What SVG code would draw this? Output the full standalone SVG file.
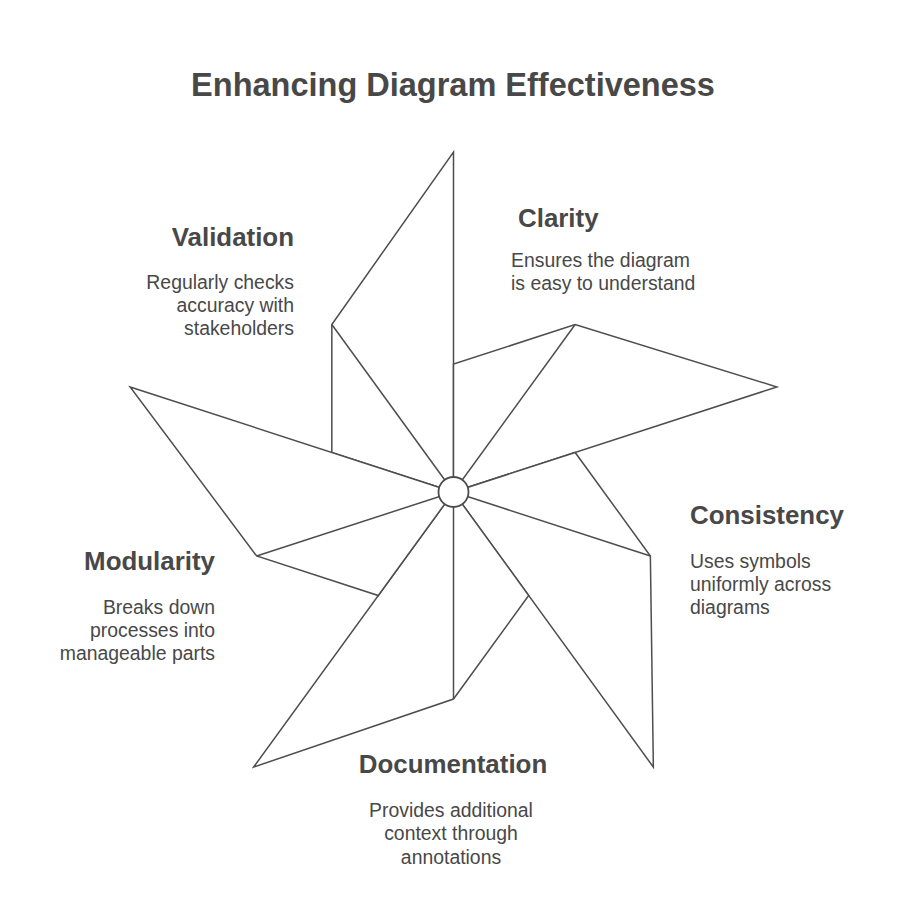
<svg xmlns="http://www.w3.org/2000/svg" width="907" height="922" viewBox="0 0 907 922">
<style>
.blade{fill:#ffffff;stroke:#4d4d4d;stroke-width:1.5;stroke-linejoin:miter}
.spoke{stroke:#4d4d4d;stroke-width:1.5;fill:none}
.hub{fill:#ffffff;stroke:#4d4d4d;stroke-width:1.8}
.title{font-family:"Liberation Sans",Arial,sans-serif;font-weight:bold;font-size:32.5px;fill:#484848}
.head{font-family:"Liberation Sans",Arial,sans-serif;font-weight:bold;font-size:25.9px;fill:#484848}
.desc{font-family:"Liberation Sans",Arial,sans-serif;font-size:19.4px;fill:#484848}
</style>
<rect width="907" height="922" fill="#ffffff"/>
<text class="title" x="453" y="96" text-anchor="middle">Enhancing Diagram Effectiveness</text>
<g id="pinwheel">
<g id="blade-validation">
<polygon class="blade" points="453.5,492 453.5,152 331.83,324.53 331.83,452.47"/>
<line class="spoke" x1="453.5" y1="492" x2="331.83" y2="324.53"/>
</g>
<g id="blade-clarity">
<polygon class="blade" points="453.5,492 776.86,386.93 575.17,324.53 453.5,364.07"/>
<line class="spoke" x1="453.5" y1="492" x2="575.17" y2="324.53"/>
</g>
<g id="blade-consistency">
<polygon class="blade" points="453.5,492 653.35,767.07 650.37,555.97 575.17,452.47"/>
<line class="spoke" x1="453.5" y1="492" x2="650.37" y2="555.97"/>
</g>
<g id="blade-documentation">
<polygon class="blade" points="453.5,492 253.65,767.07 453.5,699 528.70,595.50"/>
<line class="spoke" x1="453.5" y1="492" x2="453.5" y2="699"/>
</g>
<g id="blade-modularity">
<polygon class="blade" points="453.5,492 130.14,386.93 256.63,555.97 378.30,595.50"/>
<line class="spoke" x1="453.5" y1="492" x2="256.63" y2="555.97"/>
</g>
<g id="hub">
<circle class="hub" cx="453.5" cy="492" r="15"/>
</g>
</g>
<g id="label-clarity">
<text class="head" x="518" y="227">Clarity</text>
<text class="desc" x="511" y="267">Ensures the diagram</text>
<text class="desc" x="511" y="290">is easy to understand</text>
</g>
<g id="label-validation" text-anchor="end">
<text class="head" x="294" y="246">Validation</text>
<text class="desc" x="294" y="289">Regularly checks</text>
<text class="desc" x="294" y="312">accuracy with</text>
<text class="desc" x="294" y="335">stakeholders</text>
</g>
<g id="label-consistency">
<text class="head" x="690" y="524">Consistency</text>
<text class="desc" x="690" y="568">Uses symbols</text>
<text class="desc" x="690" y="591">uniformly across</text>
<text class="desc" x="690" y="614">diagrams</text>
</g>
<g id="label-modularity" text-anchor="end">
<text class="head" x="215" y="570">Modularity</text>
<text class="desc" x="215" y="614">Breaks down</text>
<text class="desc" x="215" y="637">processes into</text>
<text class="desc" x="215" y="660">manageable parts</text>
</g>
<g id="label-documentation" text-anchor="middle">
<text class="head" x="453" y="773">Documentation</text>
<text class="desc" x="451" y="817">Provides additional</text>
<text class="desc" x="451" y="840">context through</text>
<text class="desc" x="451" y="864">annotations</text>
</g>
</svg>
